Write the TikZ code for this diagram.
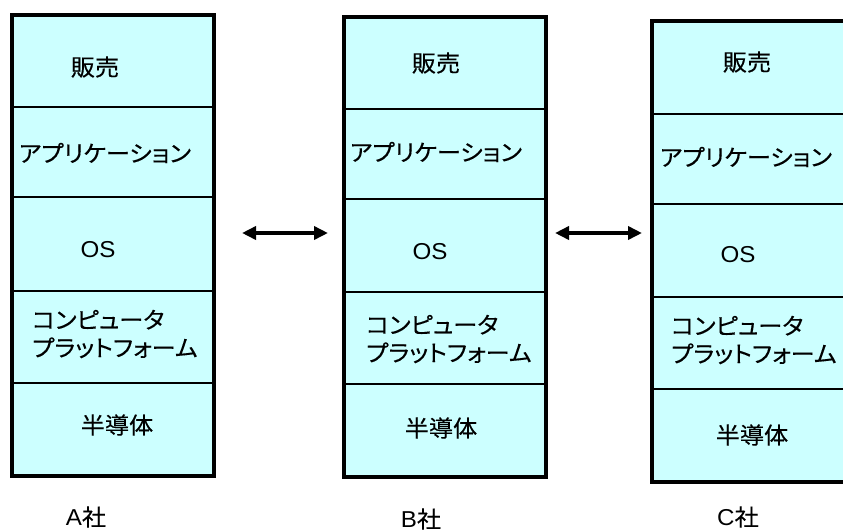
\documentclass[tikz,border=0pt]{standalone}
\usepackage{fontspec}
\newfontfamily\jpfont[FakeStretch=1.05,FakeBold=0.3,RawFeature=+palt]{Noto Sans CJK JP}
\newfontfamily\latfont[FakeStretch=1.05]{Liberation Sans}
\usetikzlibrary{arrows.meta}
\definecolor{cellcyan}{HTML}{CCFFFF}
\tikzset{
  jp/.style={font=\jpfont\fontsize{23}{28}\selectfont, inner sep=0pt},
  lat/.style={font=\latfont\fontsize{23}{26}\selectfont, inner sep=0pt},
  firmlabel/.style={inner sep=0pt},
  outerframe/.style={draw=black, line width=4pt},
  divider/.style={draw=black, line width=2.5pt},
  link/.style={line width=4pt, {Triangle[length=14pt,width=13pt]}-{Triangle[length=14pt,width=13pt]}},
}
\begin{document}
\begin{tikzpicture}[x=1pt,y=-1pt]
\clip (0,0) rectangle (843,531);
\fill[white] (0,0) rectangle (843,531);

% column A
\fill[cellcyan] (12,15) rectangle (214,476);
\foreach \yy in {107,197,291,383} \draw[divider] (12,\yy) -- (214,\yy);
\draw[outerframe] (12,15) rectangle (214,476);
% column B
\fill[cellcyan] (344,17) rectangle (546,477);
\foreach \yy in {109,199,292,384} \draw[divider] (344,\yy) -- (546,\yy);
\draw[outerframe] (344,17) rectangle (546,477);
% column C
\fill[cellcyan] (652,21) rectangle (855,482);
\foreach \yy in {114,204,297,389} \draw[divider] (652,\yy) -- (855,\yy);
\draw[outerframe] (652,21) rectangle (855,482);

% texts A
\node[jp] (a1) at (95,67) {販売};
\node[jp] (a2) at (105,153) {アプリケーション};
\node[lat] (a3) at (98,250) {OS};
\node[jp, anchor=west, align=left] (a4) at (32,334) {コンピュータ\\プラットフォーム};
\node[jp] (a5) at (117,425) {半導体};
\node[firmlabel] (la) at (86,517) {{\latfont\fontsize{23}{26}\selectfont A}{\jpfont\fontsize{23}{26}\selectfont 社}};

% texts B
\node[jp] (b1) at (436,63) {販売};
\node[jp] (b2) at (436,152) {アプリケーション};
\node[lat] (b3) at (430,252) {OS};
\node[jp, anchor=west, align=left] (b4) at (366,339) {コンピュータ\\プラットフォーム};
\node[jp] (b5) at (441,428) {半導体};
\node[firmlabel] (lb) at (421,519) {{\latfont\fontsize{23}{26}\selectfont B}{\jpfont\fontsize{23}{26}\selectfont 社}};

% texts C
\node[jp] (c1) at (747,62) {販売};
\node[jp] (c2) at (746,157) {アプリケーション};
\node[lat] (c3) at (738,255) {OS};
\node[jp, anchor=west, align=left] (c4) at (671,340) {コンピュータ\\プラットフォーム};
\node[jp] (c5) at (752,435) {半導体};
\node[firmlabel] (lc) at (738,517) {{\latfont\fontsize{23}{26}\selectfont C}{\jpfont\fontsize{23}{26}\selectfont 社}};

% arrows
\coordinate (p1s) at (242,233);
\coordinate (p1e) at (328,233);
\coordinate (p2s) at (555,233);
\coordinate (p2e) at (642,233);
\draw[link] (p1s) -- (p1e);
\draw[link] (p2s) -- (p2e);
\end{tikzpicture}
\end{document}
